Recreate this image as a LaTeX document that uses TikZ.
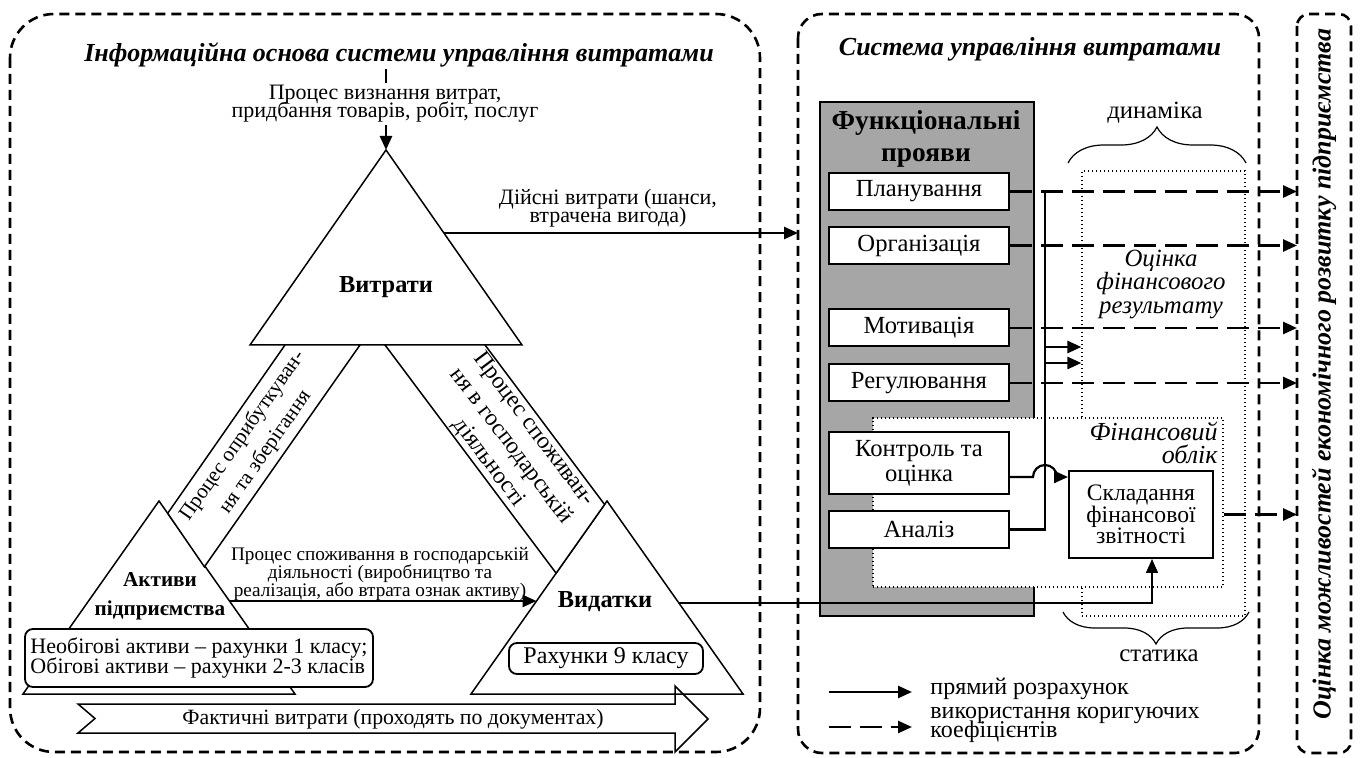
\documentclass[tikz,border=0pt]{standalone}
\usepackage{fontspec}
\setmainfont{Liberation Serif}
\usetikzlibrary{arrows.meta, decorations.pathreplacing}

\definecolor{panelgray}{HTML}{A6A6A6}
\lineskiplimit=-20pt

\tikzset{
    framebox/.style={draw, line width=1.3pt, dash pattern=on 5pt off 3pt},
    tri/.style={draw, line width=0.75pt, fill=white},
    ttl/.style={font=\fontsize{13}{14}\selectfont\bfseries\itshape},
    lbl/.style={font=\fontsize{11}{9}\selectfont, align=center, inner sep=1pt},
    bandtxt/.style={align=center, inner sep=0pt},
    rbox/.style={draw, line width=0.9pt, fill=white, rounded corners=4pt, inner sep=2pt},
    fnbox/.style={draw, line width=1pt, fill=white, minimum width=90pt, minimum height=18.5pt,
                  inner sep=1pt, align=center, font=\fontsize{12.3}{12.5}\selectfont},
    dotbox/.style={draw, line width=0.6pt, dash pattern=on 0.6pt off 1.4pt},
    arrtip/.style={-{Triangle[length=7pt, width=6pt]}},
    solidarr/.style={arrtip, line width=1.3pt},
    dasharr/.style={arrtip, line width=1.3pt, dash pattern=on 11pt off 4.5pt},
    thinarr/.style={arrtip, line width=0.8pt}
}

\begin{document}
\begin{tikzpicture}[x=0.5pt, y=-0.5pt]
\useasboundingbox (0,0) rectangle (1360,758);

% frames
\draw[framebox, rounded corners=22pt] (10,14) rectangle (760,752);
\draw[framebox, rounded corners=12pt] (798,14) rectangle (1259,753);
\draw[framebox, rounded corners=6pt] (1297,14) rectangle (1351,753);

\node (infttl) at (399,55) [ttl] {Інформаційна основа системи управління витратами};
\node (systtl) at (1030,49) [ttl] {Система управління витратами};
\node (devttl) at (1324,374) [ttl, rotate=90] {Оцінка можливостей економічного розвитку підприємства};

% triangles
\coordinate (vtA) at (386,150);
\coordinate (vtL) at (250,345);
\coordinate (vtR) at (522,345);
\coordinate (akA) at (159,501);
\coordinate (akL) at (23,694);
\coordinate (akR) at (295,694);
\coordinate (vdA) at (607,501);
\coordinate (vdL) at (471,694);
\coordinate (vdR) at (743,694);

\draw[tri] (vtA) -- (vtL) -- (vtR) -- cycle;
\draw[tri] (akA) -- (akL) -- (akR) -- cycle;
\draw[tri] (vdA) -- (vdL) -- (vdR) -- cycle;

\draw[tri] (285,345) -- (360,345) -- (204.4,566.8) -- (167.7,513.3) -- cycle;
\draw[tri] (385,345) -- (485,345) -- (604.6,504.5) -- (556.1,573.2) -- cycle;

\node (opryb) at (254,444) [bandtxt, rotate=55, font=\fontsize{10.5}{14}\selectfont]
    {Процес оприбуткуван-\\ня та зберігання};
\node (spozh) at (511,446) [bandtxt, rotate=-53, font=\fontsize{11.8}{14}\selectfont]
    {Процес споживан-\\ня в господарській\\діяльності};

\node (vytraty) at (386,287) [font=\fontsize{12.2}{14}\selectfont\bfseries] {Витрати};
\node (aktyvy) at (160,596) [align=center, font=\fontsize{10.6}{14.5}\selectfont\bfseries] {Активи\\підприємства};
\node (vydatky) at (605,602) [font=\fontsize{12.2}{14}\selectfont\bfseries] {Видатки};

\node (rah13) at (199,658) [rbox, minimum width=174pt, minimum height=29pt, align=left,
    font=\fontsize{11}{10}\selectfont]
    {Необігові активи – рахунки 1 класу;\\Обігові активи – рахунки 2-3 класів};
\node (rah9) at (606,658.5) [rbox, minimum width=97pt, minimum height=15.5pt,
    font=\fontsize{12}{12}\selectfont] {Рахунки 9 класу};

\node (vyzn) at (385,104) [lbl] {Процес визнання витрат,\\придбання товарів, робіт, послуг};
\coordinate (vyzntop) at (386,69);
\draw[line width=1.3pt] (vyzntop) -- (vyzn.north -| vtA);
\draw[solidarr] (vyzn.south -| vtA) -- (vtA);

\node (dijsni) at (608,208) [lbl] {Дійсні витрати (шанси,\\втрачена вигода)};
\coordinate (vtout) at (444,233);
\coordinate (sysin) at (798,233);
\draw[solidarr] (vtout) -- (sysin);

\node (spozhmid) at (380,574) [lbl, font=\fontsize{9.6}{8.8}\selectfont]
    {Процес споживання в господарській\\діяльності (виробництво та\\реалізація, або втрата ознак активу)};
\coordinate (akout) at (229.5,601);
\coordinate (vdin) at (536.5,601);
\draw[solidarr] (akout) -- (vdin);

% block arrow
\draw[line width=0.75pt] (78,704) -- (675,704) -- (675,686) -- (708,719) -- (675,752)
    -- (675,733) -- (78,733) -- (95,718.5) -- cycle;
\node (fakt) at (393,719) [lbl, font=\fontsize{10.9}{12}\selectfont]
    {Фактичні витрати (проходять по документах)};

% management system
\node (fnpanel) at (927,359) [draw, line width=0.75pt, fill=panelgray,
    minimum width=107pt, minimum height=257pt] {};
\node (fnttl) at (926,139) [align=center, font=\fontsize{13.7}{16}\selectfont\bfseries]
    {Функціональні\\прояви};

\node (otsfr) at (1163.5,393.5) [dotbox, minimum width=81.5pt, minimum height=222.5pt] {};
\node (otslbl) at (1161,284) [align=center, font=\fontsize{12.4}{11.75}\selectfont\itshape]
    {Оцінка\\фінансового\\результату};
\draw[decorate, decoration={brace, amplitude=18pt}, line width=0.6pt] (1068,163) -- (1246,163);
\node (dyn) at (1155,113) [font=\fontsize{12.4}{13}\selectfont] {динаміка};
\draw[decorate, decoration={brace, amplitude=16pt}, line width=0.6pt] (1249,612) -- (1063,612);
\node (stat) at (1159,656) [font=\fontsize{12.4}{13}\selectfont] {статика};

\node (finobl) at (1048,502.5) [dotbox, fill=white, minimum width=175pt, minimum height=84.5pt] {};
\node (finlbl) at (1220,420) [anchor=north east, align=right, inner sep=1pt,
    font=\fontsize{13}{11.5}\selectfont\itshape] {Фінансовий\\облік};

\node (plan) at (919,191.5) [fnbox] {Планування};
\node (org) at (919,245.5) [fnbox] {Організація};
\node (motyv) at (919,328) [fnbox] {Мотивація};
\node (regul) at (919,383) [fnbox] {Регулювання};
\node (kontr) at (919,463) [fnbox, minimum height=31pt] {Контроль та\\оцінка};
\node (analiz) at (919,529.5) [fnbox] {Аналіз};

\node (sklad) at (1141,514.5) [fnbox, minimum width=72pt, minimum height=43.5pt,
    font=\fontsize{11.8}{10.8}\selectfont] {Складання\\фінансової\\звітності};

\coordinate (bus) at (1045,0);
\coordinate (rfw) at (1297,0);

\draw[line width=1.1pt] (analiz.east) -| (bus |- plan.east);
\foreach \yy in {347,363}
    \draw[solidarr] (bus |- 0,\yy) -- (otsfr.west |- 0,\yy);
\draw[solidarr, line width=1.1pt] ([yshift=-7pt]kontr.east) -- (1033,477)
    arc[start angle=180, end angle=0, radius=6pt] -- (sklad.west |- 0,477);

\draw[dasharr] (plan.east) -- (plan.east -| rfw);
\draw[dasharr] (org.east) -- (org.east -| rfw);
\draw[dasharr] (motyv.east) -- (motyv.east -| rfw);
\draw[dasharr] (regul.east) -- (regul.east -| rfw);
\draw[dasharr] (finobl.east |- sklad.east) -- (rfw |- sklad.east);

\coordinate (vdout) at (679,603);
\draw[thinarr] (vdout) -| ([xshift=5.5pt]sklad.south);

% legend
\node (lgdir) at (930,689) [anchor=west, inner sep=0pt, font=\fontsize{12}{12}\selectfont] {прямий розрахунок};
\node (lgcor) at (930,724.5) [anchor=west, align=left, inner sep=0pt, font=\fontsize{12}{9.5}\selectfont]
    {використання коригуючих\\коефіцієнтів};
\draw[solidarr] (829,692) -- (912,692);
\draw[dasharr] (829,727) -- (912,727);

\end{tikzpicture}
\end{document}
